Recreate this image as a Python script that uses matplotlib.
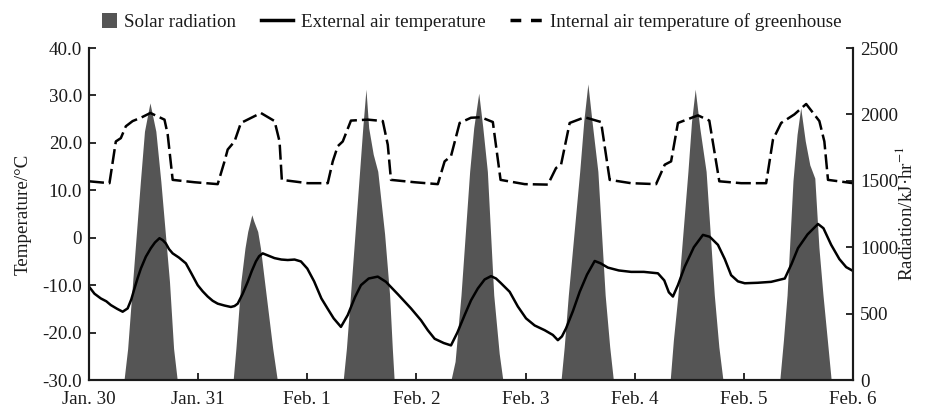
import matplotlib
matplotlib.use('Agg')
import matplotlib.pyplot as plt
from matplotlib.patches import Patch, Rectangle
from matplotlib.lines import Line2D
from matplotlib.legend_handler import HandlerPatch
import numpy as np

plt.rcParams['font.family'] = ['Liberation Serif', 'DejaVu Serif']
plt.rcParams['mathtext.fontset'] = 'stix'
FS = 13.7

# x values are hours since Jan. 30 00:00
day_labels = ['Jan. 30', 'Jan. 31', 'Feb. 1', 'Feb. 2', 'Feb. 3', 'Feb. 4', 'Feb. 5', 'Feb. 6']

# solar radiation, one list per day: (hour of day, kJ/hr)
rad_days = [
    [(7.7, 0), (8.5, 237), (9.6, 740), (11.3, 1495), (12.2, 1873), (13.4, 2087),
     (14.7, 1873), (15.8, 1495), (17.7, 740), (18.6, 237), (19.4, 0)],
    [(7.7, 0), (8.3, 237), (9.4, 740), (10.3, 994), (10.9, 1118), (11.8, 1244),
     (12.2, 1200), (13.1, 1118), (13.7, 994), (14.6, 740), (16.4, 237), (17.4, 0)],
    [(7.9, 0), (8.6, 237), (9.5, 642), (11.5, 1571), (12.2, 1900), (12.9, 2190),
     (13.5, 1900), (14.5, 1700), (15.5, 1571), (17.0, 1100), (18.1, 642), (18.7, 237),
     (19.1, 0)],
    [(7.6, 0), (8.5, 140), (9.8, 640), (11.7, 1570), (12.6, 1900), (13.7, 2160),
     (14.6, 1900), (15.6, 1570), (17.0, 640), (18.2, 200), (19.0, 0)],
    [(7.8, 0), (8.5, 250), (9.4, 640), (11.9, 1570), (12.8, 1950), (13.7, 2230),
     (14.6, 1950), (15.9, 1570), (17.5, 640), (18.5, 250), (19.3, 0)],
    [(7.8, 0), (8.5, 300), (9.5, 640), (11.7, 1570), (12.5, 1950), (13.3, 2190),
     (14.3, 1900), (15.7, 1570), (17.5, 640), (18.5, 250), (19.4, 0)],
    [(7.9, 0), (8.7, 300), (9.5, 640), (10.8, 1500), (11.7, 1850), (12.5, 2050),
     (13.5, 1800), (14.5, 1620), (15.6, 1520), (16.5, 1000), (17.4, 640), (18.5, 250),
     (19.2, 0)],
]

# external air temperature (hour, degC)
ext_hours = [0, 1.2, 2.6, 3.8, 4.8, 6.2, 7.4, 8.5, 9.3, 10.0, 10.7, 11.4, 12.5, 13.6,
             14.5, 15.5, 16.2, 16.9, 17.6, 18.4, 19.8, 21.3, 22.5, 23.9, 25.0, 26.1,
             27.2, 28.3, 29.8, 31.2, 32.0, 32.7, 33.8, 34.9, 35.8, 36.7, 37.4, 38.2,
             39.5, 40.8, 42.3, 43.7, 45.2, 46.6, 48.0, 49.5, 51.1, 52.5, 53.8, 55.4,
             56.9, 58.5, 59.8, 61.5, 63.5, 65.3, 68.0, 70.8, 73.0, 74.5, 76.0, 78.0,
             79.6, 81.0, 82.6, 84.0, 85.5, 87.0, 88.4, 89.5, 90.5, 92.5, 94.3, 96.1,
             98.0, 100.2, 102.0, 103.1, 104.0, 104.9, 106.4, 107.9, 109.5, 111.2, 112.5,
             114.1, 116.5, 119.2, 122.0, 125.1, 126.5, 127.5, 128.4, 129.5, 131.0, 133.0,
             135.0, 136.5, 138.3, 139.8, 141.2, 142.7, 144.2, 147.0, 150.0, 153.0, 154.5,
             155.9, 158.0, 160.3, 161.5, 163.2, 165.0, 166.5, 168]
ext_temp = [-10.3, -11.8, -12.8, -13.4, -14.2, -15.0, -15.6, -14.9, -13.0, -10.7, -8.5,
            -6.5, -4.0, -2.2, -1.0, -0.1, -0.5, -1.2, -2.4, -3.3, -4.2, -5.4, -7.5, -10.0,
            -11.3, -12.4, -13.3, -13.9, -14.3, -14.6, -14.4, -13.9, -11.8, -9.3, -7.0,
            -5.0, -3.9, -3.3, -3.8, -4.3, -4.6, -4.7, -4.6, -5.0, -6.5, -9.2, -12.8,
            -15.0, -17.0, -18.8, -16.3, -12.5, -10.0, -8.6, -8.2, -9.3, -12.0, -14.9,
            -17.4, -19.5, -21.3, -22.2, -22.7, -20.0, -16.3, -13.2, -10.7, -8.8, -8.1,
            -8.6, -9.5, -11.4, -14.5, -17.0, -18.5, -19.5, -20.5, -21.6, -20.8, -19.1,
            -15.5, -11.4, -7.8, -4.9, -5.4, -6.3, -6.9, -7.2, -7.2, -7.5, -9.0, -11.5,
            -12.4, -10.0, -6.1, -2.0, 0.6, 0.2, -1.5, -4.5, -7.9, -9.2, -9.6, -9.5, -9.3,
            -8.6, -5.5, -2.2, 0.7, 2.9, 2.0, -1.5, -4.5, -6.2, -7.0]

# internal air temperature of greenhouse (hour, degC)
int_hours = [0, 4.5, 5.9, 7.0, 8.1, 9.6, 11.4, 13.5, 16.6, 17.3, 18.4, 23.2, 28.3, 29.8,
             30.5, 32.0, 33.4, 37.8, 40.8, 41.9, 42.4, 48.1, 52.5, 53.6, 54.7, 55.8, 57.6,
             61.3, 64.6, 65.7, 66.4, 71.6, 76.7, 78.2, 79.6, 81.5, 84.0, 86.2, 88.8, 90.5,
             95.8, 100.9, 102.7, 103.8, 105.7, 109.0, 112.6, 114.5, 119.2, 124.7, 126.6,
             128.0, 129.5, 133.9, 136.4, 138.6, 143.4, 148.9, 150.4, 152.2, 155.1, 157.7,
             160.6, 161.7, 162.5, 168]
int_temp = [11.9, 11.5, 20.3, 21.0, 23.5, 24.6, 25.3, 26.3, 24.9, 21.8, 12.2, 11.7, 11.3,
            16.1, 18.6, 20.3, 24.2, 26.3, 24.6, 20.3, 12.2, 11.5, 11.5, 16.1, 19.3, 20.3,
            24.7, 24.9, 24.6, 19.6, 12.2, 11.7, 11.3, 16.1, 17.2, 24.2, 25.3, 25.4, 24.4,
            12.2, 11.3, 11.2, 14.7, 15.4, 24.2, 25.4, 24.4, 12.2, 11.5, 11.3, 15.4, 16.1,
            24.2, 25.8, 24.7, 11.9, 11.5, 11.5, 20.7, 24.2, 26.0, 28.2, 24.6, 20.3, 12.2,
            11.5]

temp_ticks = [40, 30, 20, 10, 0, -10, -20, -30]
temp_labels = ['40.0', '30.0', '20.0', '10.0', '0', '-10.0', '-20.0', '-30.0']
rad_ticks = [0, 500, 1000, 1500, 2000, 2500]

rad_t, rad_v = [0], [0]
for d, pts in enumerate(rad_days):
    for h, v in pts:
        rad_t.append(d * 24 + h)
        rad_v.append(v)
rad_t.append(168)
rad_v.append(0)

fill_col = '#555555'
ink = '#1a1a1a'

fig = plt.figure(figsize=(9.29, 4.08), dpi=100)
ax = fig.add_axes([0.0958, 0.0686, 0.8224, 0.8137])
ax2 = ax.twinx()

ax2.fill_between(rad_t, 0, rad_v, color=fill_col, linewidth=0)
ax.plot(ext_hours, ext_temp, color='black', lw=1.8, solid_joinstyle='round')
ax.plot(int_hours, int_temp, color='black', lw=1.8, dashes=(6, 2))

ax.set_zorder(ax2.get_zorder() + 1)
ax.patch.set_visible(False)

ax.set_xlim(0, 168)
ax.set_ylim(-30, 40)
ax2.set_ylim(0, 2500)
ax.set_xticks(np.arange(0, 169, 24))
ax.set_xticklabels(day_labels)
ax.set_yticks(temp_ticks)
ax.set_yticklabels(temp_labels)
ax2.set_yticks(rad_ticks)

for a in (ax, ax2):
    a.spines['top'].set_visible(False)
    for s in ('left', 'right', 'bottom'):
        a.spines[s].set_linewidth(1.5)
        a.spines[s].set_color(ink)
    a.tick_params(direction='in', length=5, width=1.3, labelsize=FS, pad=5,
                  colors=ink)
ax.tick_params(axis='x', pad=8)

ax.set_ylabel('Temperature/°C', fontsize=FS, color=ink)
ax2.set_ylabel('Radiation/kJ·hr$^{-1}$', fontsize=FS, color=ink, rotation=90)
ax.yaxis.set_label_coords(-0.075, 0.5)
ax2.yaxis.set_label_coords(1.0555, 0.5)


def square_patch(legend, orig_handle, xdescent, ydescent, width, height, fontsize):
    s = height * 1.1
    return Rectangle((width - s - xdescent, -ydescent + (height - s) / 2), s, s)


handles = [Patch(facecolor=fill_col, edgecolor='none'),
           Line2D([], [], color='black', lw=2.5),
           Line2D([], [], color='black', lw=2.5, dashes=(3.1, 2.8))]
fig.legend(handles, ['Solar radiation', 'External air temperature',
                     'Internal air temperature of greenhouse'],
           loc='center', bbox_to_anchor=(0.4985, 0.946), ncol=3, frameon=False,
           fontsize=FS, handlelength=1.7, handletextpad=0.4, columnspacing=1.3,
           labelcolor=ink,
           handler_map={Patch: HandlerPatch(patch_func=square_patch)})

fig.savefig('out.png', dpi=100)
